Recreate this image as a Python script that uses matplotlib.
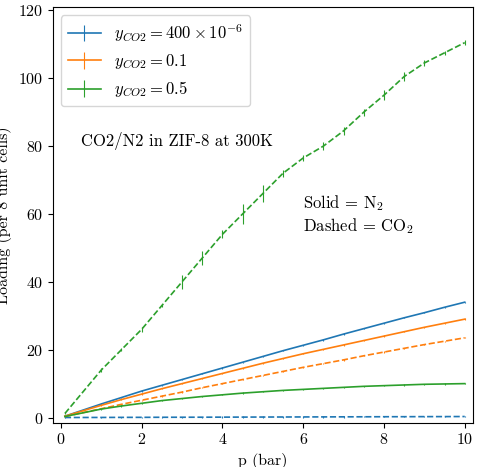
import matplotlib
matplotlib.use("Agg")
import matplotlib.pyplot as plt

plt.rcParams['font.family'] = 'serif'
plt.rcParams['font.serif'] = ['cmr10', 'DejaVu Serif']
plt.rcParams['mathtext.fontset'] = 'cm'
plt.rcParams['axes.formatter.use_mathtext'] = True
plt.rcParams['font.size'] = 11.5

p = [0.1, 1, 1.5, 2, 2.5, 3, 3.5, 4, 4.5, 5, 5.5, 6, 6.5, 7, 7.5, 8, 8.5, 9, 9.5, 10]
n2_low   = [0.4, 4.0, 5.9, 7.8, 9.5, 11.2, 12.9, 14.6, 16.3, 18.0, 19.7, 21.3, 22.9, 24.6, 26.2, 27.8, 29.4, 30.9, 32.5, 34.0]
co2_low  = [0.01, 0.03, 0.05, 0.06, 0.08, 0.09, 0.1, 0.12, 0.13, 0.15, 0.16, 0.18, 0.19, 0.21, 0.22, 0.24, 0.25, 0.27, 0.28, 0.3]
n2_mid   = [0.4, 3.6, 5.3, 6.9, 8.5, 10.0, 11.5, 13.0, 14.5, 16.0, 17.4, 18.8, 20.1, 21.4, 22.7, 24.0, 25.3, 26.6, 27.8, 29.0]
co2_mid  = [0.3, 2.6, 3.9, 5.1, 6.3, 7.5, 8.8, 10.0, 11.2, 12.4, 13.6, 14.8, 15.9, 17.0, 18.2, 19.3, 20.4, 21.5, 22.5, 23.5]
n2_high  = [0.3, 2.5, 3.4, 4.2, 5.0, 5.6, 6.2, 6.7, 7.2, 7.6, 8.0, 8.3, 8.6, 8.9, 9.2, 9.4, 9.6, 9.8, 9.9, 10.0]
co2_high = [1.2, 14.0, 20.0, 26.0, 33.0, 40.0, 47.0, 54.0, 60.0, 66.0, 72.0, 76.5, 80.0, 84.5, 90.0, 95.0, 100.5, 104.5, 107.5, 110.5]
co2_high_err = [0.3, 0.5, 0.5, 0.8, 0.5, 2.0, 2.0, 1.2, 3.0, 2.5, 1.0, 1.0, 1.2, 1.2, 1.0, 1.5, 1.2, 1.0, 0.5, 0.8]
small_err = [0.2] * len(p)

labels = [r'$y_{CO2} = 400\times10^{-6}$', r'$y_{CO2} = 0.1$', r'$y_{CO2} = 0.5$']
colors = ['#1f77b4', '#ff7f0e', '#2ca02c']

fig, ax = plt.subplots(figsize=(4.8, 4.67), dpi=100)
series = [(n2_low, co2_low, small_err), (n2_mid, co2_mid, small_err), (n2_high, co2_high, co2_high_err)]
for (n2, co2, err), c, lab in zip(series, colors, labels):
    ax.errorbar(p, n2, yerr=small_err, color=c, label=lab, lw=1.2, elinewidth=0.8)
    ax.errorbar(p, co2, yerr=err, color=c, ls='--', lw=1.2, elinewidth=0.8)

ax.set_xlim(-0.2, 10.2)
ax.set_ylim(-1.5, 121)
ax.set_xlabel('p (bar)')
ax.set_ylabel('Loading (per 8 unit cells)')
ax.legend(loc='upper left', fontsize=12)
ax.text(0.5, 80, 'CO2/N2 in ZIF-8 at 300K', fontsize=12)
ax.text(6, 55, 'Solid = N$_2$\nDashed = CO$_2$', fontsize=12)
fig.subplots_adjust(left=0.11, right=0.985, bottom=0.095, top=0.985)
fig.savefig('out.png')
